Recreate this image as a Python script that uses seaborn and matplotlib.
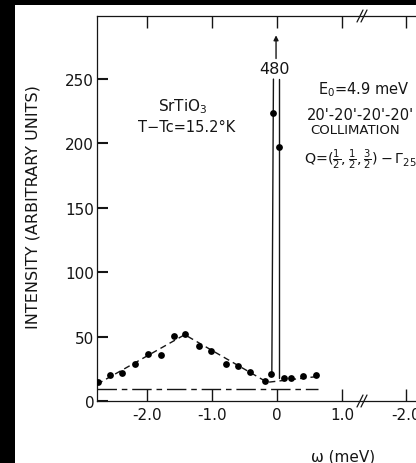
import matplotlib
matplotlib.use("Agg")
import matplotlib.pyplot as plt
from matplotlib.patches import Rectangle
from matplotlib.lines import Line2D
import pandas as pd
import seaborn as sns

# Measured scan, SrTiO3 at T - Tc = 15.2 K
omega = [-2.76, -2.57, -2.38, -2.19, -1.99, -1.79, -1.59, -1.41, -1.20, -1.01,
         -0.78, -0.60, -0.41, -0.18, -0.10, -0.06, 0.03, 0.11, 0.21, 0.40, 0.60]
intensity = [14.8, 20.0, 21.6, 28.4, 36.2, 36.1, 50.1, 51.9, 42.6, 38.5,
             28.7, 26.8, 22.4, 15.4, 20.8, 223.7, 197.4, 18.0, 18.0, 19.3, 20.0]

# Guide through the broad phonon wing
fit_omega = [-2.77, -1.42, -0.15, 0.62]
fit_intensity = [13.0, 51.5, 14.5, 19.0]

# Central peak flanks (peak runs off scale, maximum 480)
peak_left_omega = [-0.08, -0.055]
peak_left_intensity = [20.0, 250.0]
peak_right_omega = [0.03, 0.03]
peak_right_intensity = [250.0, 18.0]
peak_max_label = "480"

# Background level
bg_omega = [-2.77, 0.63]
bg_intensity = [9.1, 9.1]

y_ticks = [0, 50, 100, 150, 200, 250]
y_ticklabels = ["0", "50", "100", "150", "200", "250"]
x_ticks_main = [-2.0, -1.0, 0.0, 1.0]
x_ticklabels_main = ["-2.0", "-1.0", "0", "1.0"]
x_ticks_next = [-2.0]
x_ticklabels_next = ["-2.0"]

sns.set_theme(style="white")
plt.rcParams["font.family"] = ["DejaVu Sans"]
plt.rcParams["mathtext.fontset"] = "dejavusans"
plt.rcParams["axes.unicode_minus"] = False

INK = "#151515"
W, H = 416, 464

fig = plt.figure(figsize=(W / 100, H / 100), dpi=100)
fig.patch.set_facecolor("white")


def fpos(px, py):
    return px / W, 1 - py / H


ax1 = fig.add_axes([97 / W, (H - 402) / H, (363 - 97) / W, (402 - 17) / H])
ax2 = fig.add_axes([363 / W, (H - 402) / H, (416 - 363) / W, (402 - 17) / H])

for ax in (ax1, ax2):
    ax.set_facecolor("white")
    ax.set_ylim(0, 299)
    for side in ("top", "bottom", "left", "right"):
        ax.spines[side].set_color(INK)
        ax.spines[side].set_linewidth(0.9)

ax1.set_xlim(-2.77, 1.323)
ax2.set_xlim(-2.662, -1.846)
ax1.spines["right"].set_visible(False)
ax2.spines["left"].set_visible(False)
ax2.spines["right"].set_visible(False)

points = pd.DataFrame({"omega": omega, "intensity": intensity})
fit = pd.DataFrame({"omega": fit_omega, "intensity": fit_intensity})
bg = pd.DataFrame({"omega": bg_omega, "intensity": bg_intensity})
pk_l = pd.DataFrame({"omega": peak_left_omega, "intensity": peak_left_intensity})
pk_r = pd.DataFrame({"omega": peak_right_omega, "intensity": peak_right_intensity})

sns.lineplot(data=bg, x="omega", y="intensity", ax=ax1, color=INK, lw=1.0,
             estimator=None, sort=False, linestyle=(0, (14, 3.5, 4, 3.5)))
sns.lineplot(data=fit, x="omega", y="intensity", ax=ax1, color=INK, lw=1.0,
             estimator=None, sort=False, linestyle=(0, (4.5, 3)))
sns.lineplot(data=pk_l, x="omega", y="intensity", ax=ax1, color=INK, lw=1.0,
             estimator=None, sort=False)
sns.lineplot(data=pk_r, x="omega", y="intensity", ax=ax1, color=INK, lw=1.0,
             estimator=None, sort=False)
sns.scatterplot(data=points, x="omega", y="intensity", ax=ax1, color="black",
                s=24, edgecolor="black", linewidth=0, zorder=5)

ax1.annotate("", xy=(-0.015, 284), xytext=(-0.015, 266),
             arrowprops=dict(arrowstyle="-|>", color=INK, lw=1.0,
                             mutation_scale=7, shrinkA=0, shrinkB=0))

for ax in (ax1, ax2):
    ax.set_xlabel("")
    ax.set_ylabel("")
if ax1.get_legend() is not None:
    ax1.get_legend().remove()

ax1.set_xticks(x_ticks_main)
ax1.set_xticklabels(x_ticklabels_main)
ax1.set_yticks(y_ticks)
ax1.set_yticklabels(y_ticklabels)
ax1.tick_params(axis="x", which="major", direction="in", top=True, bottom=True,
                length=8.6, width=1.0, color=INK, labelsize=11, pad=4.5,
                labelcolor=INK)
ax1.tick_params(axis="y", which="major", direction="in", left=True, right=False,
                length=8, width=1.5, color=INK, labelsize=11, pad=2,
                labelcolor=INK)

ax2.set_xticks(x_ticks_next)
ax2.set_xticklabels(x_ticklabels_next)
ax2.set_yticks([])
ax2.tick_params(axis="x", which="major", direction="in", top=True, bottom=True,
                length=8.6, width=1.0, color=INK, labelsize=11, pad=4.5,
                labelcolor=INK)

# Axis-break marks
for (x0, y0, x1, y1) in [(357, 23, 363, 11), (361, 23, 367, 11),
                         (357, 408, 363, 396), (361, 408, 367, 396)]:
    a = fpos(x0, y0)
    b = fpos(x1, y1)
    fig.add_artist(Line2D([a[0], b[0]], [a[1], b[1]], color=INK, lw=0.9,
                          transform=fig.transFigure))

# Annotations
fig.text(*fpos(274, 69), peak_max_label, ha="center", va="center",
         fontsize=11.5, color=INK)
fig.text(*fpos(183, 107), "SrTiO$_3$", ha="center", va="center",
         fontsize=11, color=INK)
fig.text(*fpos(187, 128), "T\u2212Tc=15.2\u00b0K", ha="center", va="center",
         fontsize=10.5, color=INK)
fig.text(*fpos(318, 90), "E$_0$=4.9 meV", ha="left", va="center",
         fontsize=10.5, color=INK)
fig.text(*fpos(307, 116), "20'-20'-20'-20'", ha="left", va="center",
         fontsize=10.5, color=INK)
fig.text(*fpos(310, 131), "COLLIMATION", ha="left", va="center",
         fontsize=9.5, color=INK)
fig.text(*fpos(304, 160), r"Q=$(\frac{1}{2},\frac{1}{2},\frac{3}{2})-\Gamma_{25}$",
         ha="left", va="center", fontsize=10.3, color=INK)

fig.text(*fpos(33, 207), "INTENSITY (ARBITRARY UNITS)", ha="center",
         va="center", rotation=90, fontsize=11.5, color=INK)
fig.text(*fpos(343, 457), "\u03c9 (meV)", ha="center", va="center",
         fontsize=11, color=INK)

# Dark margins of the page
fig.add_artist(Rectangle((0, 0), 15 / W, 1, transform=fig.transFigure,
                         facecolor="black", edgecolor="none", zorder=10))
fig.add_artist(Rectangle((0, 1 - 6 / H), 1, 6 / H, transform=fig.transFigure,
                         facecolor="black", edgecolor="none", zorder=10))

fig.savefig("out.png", dpi=100, facecolor="white")
